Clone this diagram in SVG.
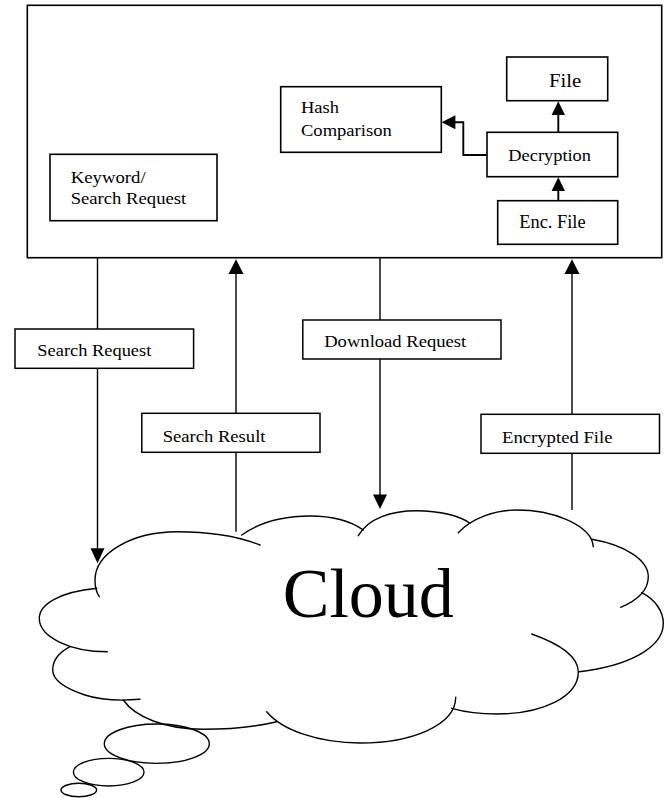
<svg xmlns="http://www.w3.org/2000/svg" width="668" height="798" viewBox="0 0 668 798">
<style>
  .box { fill: #fff; stroke: #000; stroke-width: 1.6; }
  .lbl { fill: #fff; stroke: #000; stroke-width: 1.5; }
  .t { font-family: "Liberation Serif", "Times New Roman", serif; fill: #000; }
  .ln { fill: none; stroke: #000; stroke-width: 1.4; }
  .ln2 { fill: none; stroke: #000; stroke-width: 1.9; }
  .ah { fill: #000; stroke: none; }
  .cl { fill: none; stroke: #000; stroke-width: 1.4; stroke-linecap: round; }
</style>
<rect width="668" height="798" fill="#fff"/>

<g id="client">
  <rect class="box" x="27.3" y="5.3" width="634.4" height="252.4"/>
</g>

<g id="keyword">
  <rect class="box" x="50" y="154.3" width="167" height="66.4"/>
  <text class="t" x="70.7" y="183.3" font-size="16.5" textLength="75" lengthAdjust="spacingAndGlyphs">Keyword/</text>
  <text class="t" x="70.7" y="203.5" font-size="16.5" textLength="115.5" lengthAdjust="spacingAndGlyphs">Search Request</text>
</g>

<g id="hash">
  <rect class="box" x="280.7" y="86.7" width="160.6" height="65.6"/>
  <text class="t" x="301" y="113.3" font-size="16.5" textLength="38" lengthAdjust="spacingAndGlyphs">Hash</text>
  <text class="t" x="301" y="136" font-size="16.5" textLength="90.7" lengthAdjust="spacingAndGlyphs">Comparison</text>
</g>

<g id="file">
  <rect class="box" x="506.7" y="57" width="101" height="43.7"/>
  <text class="t" x="549" y="86.7" font-size="19.5" textLength="32.3" lengthAdjust="spacingAndGlyphs">File</text>
</g>

<g id="decryption">
  <rect class="box" x="487" y="132.3" width="130.7" height="44.4"/>
  <text class="t" x="508.3" y="161" font-size="17.5" textLength="82.7" lengthAdjust="spacingAndGlyphs">Decryption</text>
</g>

<g id="encfile">
  <rect class="box" x="497.7" y="200.7" width="120" height="43.6"/>
  <text class="t" x="519.3" y="228.3" font-size="19" textLength="66.3" lengthAdjust="spacingAndGlyphs">Enc. File</text>
</g>

<g id="connectors">
  <!-- internal arrows -->
  <path class="ln2" d="M558.3,132.3 V114"/>
  <path class="ah" d="M558.3,101.2 L551.6,115 L565,115 Z"/>
  <path class="ln2" d="M558.3,200.7 V190"/>
  <path class="ah" d="M558.3,177.2 L551.6,191 L565,191 Z"/>
  <path class="ln2" d="M487,155 H463.3 V122.3 H454"/>
  <path class="ah" d="M441.6,122.3 L455.4,115.3 L455.4,129.3 Z"/>

  <!-- Search Request: client -> cloud -->
  <path class="ln" d="M97.5,257.7 V329 M97.5,368.3 V549"/>
  <path class="ah" d="M97.5,563.3 L90.5,548.3 L104.5,548.3 Z"/>
  <!-- Search Result: cloud -> client -->
  <path class="ln" d="M236,531.7 V452.3 M236,413.3 V273"/>
  <path class="ah" d="M236,259.3 L228.5,274 L243.5,274 Z"/>
  <!-- Download Request: client -> cloud -->
  <path class="ln" d="M380,257.7 V320 M380,359 V496"/>
  <path class="ah" d="M380,509 L373,494.5 L387,494.5 Z"/>
  <!-- Encrypted File: cloud -> client -->
  <path class="ln" d="M572,510 V453.3 M572,414.3 V273"/>
  <path class="ah" d="M572,259.3 L564.5,274 L579.5,274 Z"/>
</g>

<g id="label-search-request">
  <rect class="lbl" x="15" y="329" width="178.6" height="39.3"/>
  <text class="t" x="37.3" y="356" font-size="17.5" textLength="114" lengthAdjust="spacingAndGlyphs">Search Request</text>
</g>
<g id="label-search-result">
  <rect class="lbl" x="141.8" y="413.3" width="178.2" height="39"/>
  <text class="t" x="162.7" y="441.7" font-size="17.5" textLength="102.8" lengthAdjust="spacingAndGlyphs">Search Result</text>
</g>
<g id="label-download-request">
  <rect class="lbl" x="302.8" y="320" width="198.2" height="39"/>
  <text class="t" x="324.2" y="347.3" font-size="17.5" textLength="142" lengthAdjust="spacingAndGlyphs">Download Request</text>
</g>
<g id="label-encrypted-file">
  <rect class="lbl" x="481" y="414.3" width="178.5" height="39"/>
  <text class="t" x="502" y="442.7" font-size="17.5" textLength="110.5" lengthAdjust="spacingAndGlyphs">Encrypted File</text>
</g>

<g id="cloud">
  <path class="cl" d="M99.3,596.7 C96,592 95,585 95,580 C95,553.3 131.7,531.7 177,531.7 C210,531.7 240,537 260,545"/>
  <path class="cl" d="M241.7,535 C260,522 285,516 310,516 C335,516 352,522 363.3,530"/>
  <path class="cl" d="M358.3,535.7 C368,518 392,510.7 416.7,510.7 C440,510.7 460,516 470,523.3"/>
  <path class="cl" d="M458.3,532.7 C472,518 495,510 516.7,510 C555,510 585,525 591.7,540 C592.5,542 593,544 593.3,546.7"/>
  <path class="cl" d="M591.7,539.3 C625,545 648.3,560 648.3,576.7 C648.3,590 638,600 620.7,607.3"/>
  <path class="cl" d="M641.7,592.7 C656,600 663.3,612 663.3,623.3 C663.3,648 628,666 579.3,671.7"/>
  <path class="cl" d="M531.7,634 C560,644 578.3,657 578.3,672 C578.3,697 542,714 496.7,714 C480,714 465,712 451.7,708.3"/>
  <path class="cl" d="M455.7,697.3 C455.7,725 412,743 360,743 C318,743 282,730 266.7,711.7"/>
  <path class="cl" d="M276.7,721.7 C255,727 230,729.3 203,729.3 C165,729.3 135,717 123.3,700"/>
  <path class="cl" d="M140,699.3 C120,701 100,700 85,695 C64,688 52.7,680 52.7,670 C52.7,660 60,652 70,646.7"/>
  <path class="cl" d="M96.7,588.3 C60,592 39.3,604 39.3,618.3 C39.3,637 70,651.7 107.3,651.7"/>
  <ellipse class="cl" cx="156.8" cy="743.7" rx="52.5" ry="19.7"/>
  <ellipse class="cl" cx="108.7" cy="772.2" rx="35.3" ry="13.8"/>
  <ellipse class="cl" cx="78.8" cy="790" rx="17.8" ry="6.7"/>
  <text class="t" x="282.7" y="617.3" font-size="70">Cloud</text>
</g>
</svg>
